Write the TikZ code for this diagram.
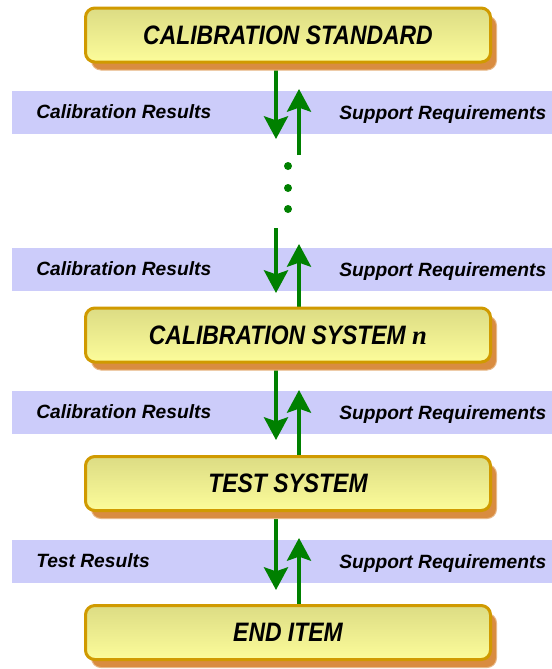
\documentclass[tikz,border=0pt]{standalone}
\usepackage{fontspec}
\setmainfont{Liberation Sans}
\newfontfamily\boxfont[FakeStretch=0.86]{Liberation Sans}
\newfontfamily\varfont{Liberation Serif}
\usetikzlibrary{arrows.meta,shadows,backgrounds}
\definecolor{bandblue}{HTML}{CCCCFA}
\definecolor{boxtop}{HTML}{DCDC84}
\definecolor{boxbottom}{HTML}{FCFC9A}
\definecolor{boxedge}{HTML}{D09A00}
\definecolor{shadoworange}{HTML}{D98C40}
\definecolor{shadowrim}{HTML}{E8B888}
\definecolor{flowgreen}{HTML}{008000}
\begin{document}
\begin{tikzpicture}[x=0.75pt, y=-0.75pt, >={Stealth[length=17pt,width=18pt,inset=3pt]}]
      \tikzset{
  stage/.style={
    rectangle,
    rounded corners=7pt,
    draw=boxedge,
    line width=2.25pt,
    top color=boxtop,
    bottom color=boxbottom,
    minimum width=303.75pt,
    minimum height=40.5pt,
    font=\boxfont\bfseries\itshape\fontsize{20}{22}\selectfont,
    general shadow={shadow xshift=4.5pt, shadow yshift=-6pt,
      fill=shadoworange, draw=shadowrim, line width=0.75pt}
  },
  bandlabel/.style={
    anchor=base west,
    inner sep=0pt,
    font=\bfseries\itshape\fontsize{14.4}{16}\selectfont
  },
  flow/.style={
    ->,
    draw=flowgreen,
    line width=3pt
  }
}
\useasboundingbox (0,0) rectangle (552,669);

% the four stages of the chain
\node [stage] (std)  at (288,35)    {CALIBRATION STANDARD};
\node [stage] (sysn) at (288,335)   {CALIBRATION SYSTEM {\varfont\bfseries\itshape n}};
\node [stage] (test) at (288,483.5) {TEST SYSTEM};
\node [stage] (item) at (288,632.5) {END ITEM};

% results go down, requirements go up
\foreach \yb/\lab [count=\i] in {91/Calibration Results,248/Calibration Results,391/Calibration Results,540/Test Results}
{
  \node [bandlabel] (res-\i) at (36,\yb+27) {\lab};
  \node [bandlabel] (req-\i) at (339,\yb+28.5) {Support Requirements};
}

\coordinate (down-1) at (276,139);
\coordinate (top-2)  at (276,228);
\coordinate (down-2) at (276,293);
\coordinate (down-3) at (276,440);
\coordinate (down-4) at (276,590);
\coordinate (foot-1) at (299,155);
\coordinate (up-1)   at (299,89);
\coordinate (up-2)   at (299,244);
\coordinate (up-3)   at (299,390);
\coordinate (up-4)   at (299,538);

\begin{scope}[on background layer]
  \foreach \yb in {91,248,391,540}
    \fill [bandblue] (12,\yb) rectangle (552,\yb+43);

  \draw [flow] (std.south -| down-1) -- (down-1);
  \draw [flow] (top-2) -- (down-2);
  \draw [flow] (sysn.south -| down-3) -- (down-3);
  \draw [flow] (test.south -| down-4) -- (down-4);

  \draw [flow] (foot-1) -- (up-1);
  \draw [flow] (sysn.north -| up-2) -- (up-2);
  \draw [flow] (test.north -| up-3) -- (up-3);
  \draw [flow] (item.north -| up-4) -- (up-4);
\end{scope}

% gap in the chain
\foreach \yd in {166,188,209}
  \fill [flowgreen] (288,\yd) circle (3pt);
    \end{tikzpicture}
\end{document}
